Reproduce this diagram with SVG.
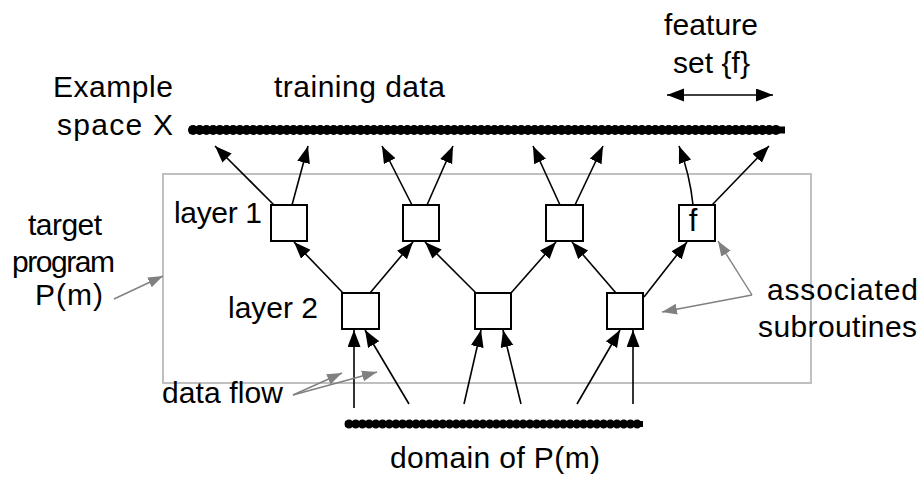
<svg xmlns="http://www.w3.org/2000/svg" width="921" height="478" viewBox="0 0 921 478">
  <style>
    text { font-family: "Liberation Sans", Arial, sans-serif; font-size: 30px; fill: #000; }
    .box { fill: #fff; stroke: #000; stroke-width: 2; }
    .frame { fill: none; stroke: #c0c0c0; stroke-width: 2; }
    .flow { fill: none; stroke: #000; stroke-width: 1.6; marker-end: url(#ah); }
    .note { fill: none; stroke: #808080; stroke-width: 1.4; marker-end: url(#gh); }
    .core { stroke: #000; }
    .beads { stroke: #000; stroke-linecap: round; stroke-dasharray: 0 6.7; }
  </style>
  <defs>
    <marker id="ah" markerUnits="userSpaceOnUse" markerWidth="18" markerHeight="14" refX="17" refY="6.5" orient="auto-start-reverse">
      <path d="M0,0 L17,6.5 L0,13 Z" fill="#000"/>
    </marker>
    <marker id="gh" markerUnits="userSpaceOnUse" markerWidth="16" markerHeight="12" refX="15" refY="5.5" orient="auto">
      <path d="M0,0 L15,5.5 L0,11 Z" fill="#808080"/>
    </marker>
  </defs>

  <rect width="921" height="478" fill="#fff"/>

  <!-- program boundary -->
  <g id="program-frame">
    <rect class="frame" x="163" y="174" width="648" height="209"/>
  </g>

  <!-- example space (beaded line) -->
  <g id="example-space">
    <line class="core" x1="189" y1="130" x2="785" y2="130" stroke-width="7"/>
    <line class="beads" x1="193" y1="130" x2="781" y2="130" stroke-width="10"/>
  </g>

  <!-- domain of P(m) (beaded line) -->
  <g id="domain">
    <line class="core" x1="345" y1="424" x2="643" y2="424" stroke-width="6"/>
    <line class="beads" x1="349" y1="424" x2="639" y2="424" stroke-width="9"/>
  </g>

  <!-- connectors -->
  <g id="connectors">
    <!-- layer 1 to example space -->
    <line class="flow" x1="274" y1="205" x2="215" y2="146"/>
    <line class="flow" x1="292" y1="205" x2="308" y2="146"/>
    <line class="flow" x1="412" y1="205" x2="382" y2="146"/>
    <line class="flow" x1="427" y1="205" x2="453" y2="146"/>
    <line class="flow" x1="560" y1="205" x2="533" y2="146"/>
    <line class="flow" x1="575" y1="205" x2="603" y2="146"/>
    <path class="flow" d="M693,205 Q690,175 679,146"/>
    <line class="flow" x1="712" y1="205" x2="769" y2="146"/>

    <!-- layer 2 to layer 1 -->
    <line class="flow" x1="343" y1="293" x2="294" y2="242"/>
    <line class="flow" x1="370" y1="293" x2="413" y2="242"/>
    <line class="flow" x1="476" y1="293" x2="425" y2="242"/>
    <line class="flow" x1="511" y1="293" x2="556" y2="242"/>
    <line class="flow" x1="616" y1="293" x2="572" y2="242"/>
    <line class="flow" x1="644" y1="297" x2="687" y2="242"/>

    <!-- domain to layer 2 -->
    <line class="flow" x1="354" y1="408" x2="354" y2="330"/>
    <line class="flow" x1="409" y1="404" x2="365" y2="330"/>
    <line class="flow" x1="464" y1="404" x2="481" y2="330"/>
    <line class="flow" x1="521" y1="404" x2="503" y2="330"/>
    <line class="flow" x1="577" y1="404" x2="620" y2="330"/>
    <line class="flow" x1="633" y1="404" x2="633" y2="330"/>

    <!-- feature set extent -->
    <line class="flow" x1="667" y1="95" x2="773" y2="95" style="marker-start:url(#ah)"/>

    <!-- annotation pointers -->
    <line class="note" x1="114" y1="299" x2="163" y2="276"/>
    <line class="note" x1="293" y1="395" x2="342" y2="373"/>
    <line class="note" x1="293" y1="395" x2="377" y2="372"/>
    <line class="note" x1="752" y1="295" x2="718" y2="241"/>
    <line class="note" x1="752" y1="295" x2="662" y2="312"/>
  </g>

  <!-- layer 1 subroutines -->
  <g id="l1-a"><rect class="box" x="271" y="205" width="36" height="36"/></g>
  <g id="l1-b"><rect class="box" x="403" y="205" width="36" height="36"/></g>
  <g id="l1-c"><rect class="box" x="546" y="205" width="37" height="36"/></g>
  <g id="l1-d">
    <rect class="box" x="679" y="205" width="36" height="36"/>
    <text x="693" y="231" text-anchor="middle" style="font-size:31px">f</text>
  </g>

  <!-- layer 2 subroutines -->
  <g id="l2-a"><rect class="box" x="342" y="293" width="37" height="36"/></g>
  <g id="l2-b"><rect class="box" x="475" y="293" width="36" height="36"/></g>
  <g id="l2-c"><rect class="box" x="607" y="293" width="36" height="36"/></g>

  <!-- labels -->
  <g id="labels">
    <text x="53" y="97" textLength="120" lengthAdjust="spacing">Example</text>
    <text x="57" y="135" textLength="116" lengthAdjust="spacing">space X</text>
    <text x="274" y="97" textLength="171" lengthAdjust="spacing">training data</text>
    <text x="664" y="35" textLength="94" lengthAdjust="spacing">feature</text>
    <text x="673" y="73" textLength="77" lengthAdjust="spacing">set {f}</text>
    <text x="28" y="235" textLength="74" lengthAdjust="spacing">target</text>
    <text x="12" y="272" textLength="103" lengthAdjust="spacing">program</text>
    <text x="35" y="305" textLength="68" lengthAdjust="spacing">P(m)</text>
    <text x="174" y="223" textLength="88" lengthAdjust="spacing">layer 1</text>
    <text x="228" y="318" textLength="90" lengthAdjust="spacing">layer 2</text>
    <text x="162" y="403" textLength="121" lengthAdjust="spacing">data flow</text>
    <text x="390" y="468" textLength="210" lengthAdjust="spacing">domain of P(m)</text>
    <text x="767" y="300" textLength="151" lengthAdjust="spacing">associated</text>
    <text x="758" y="337" textLength="159" lengthAdjust="spacing">subroutines</text>
  </g>
</svg>
